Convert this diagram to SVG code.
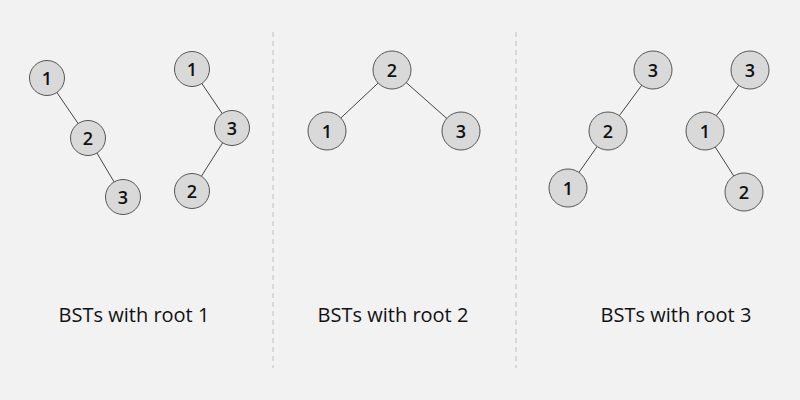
<svg xmlns="http://www.w3.org/2000/svg" width="800" height="400" viewBox="0 0 800 400">
<style>
.n circle{fill:#d9d9d9;stroke:#555;stroke-width:1}
.n text{font-family:"Open Sans","Noto Sans",sans-serif;font-size:18px;font-weight:600;fill:#111;text-anchor:middle;dominant-baseline:central}
.e line{stroke:#444;stroke-width:1}
.sep{stroke:#cfcfcf;stroke-width:1.5;stroke-dasharray:5 4}
.lbl{font-family:"Open Sans","Noto Sans",sans-serif;font-size:20px;fill:#111;text-anchor:middle}
</style>
<rect width="800" height="400" fill="#f2f2f2"/>
<line class="sep" x1="273" y1="32" x2="273" y2="368"/>
<line class="sep" x1="516" y1="32" x2="516" y2="368"/>
<g id="connectors" class="e">
<line x1="47" y1="78" x2="88" y2="138"/>
<line x1="88" y1="138" x2="123" y2="197"/>
<line x1="192" y1="69" x2="232" y2="128"/>
<line x1="232" y1="128" x2="192" y2="191"/>
<line x1="392" y1="70" x2="327" y2="131"/>
<line x1="392" y1="70" x2="461" y2="131"/>
<line x1="653" y1="70" x2="608" y2="131"/>
<line x1="608" y1="131" x2="568" y2="188"/>
<line x1="750" y1="70" x2="705" y2="131"/>
<line x1="705" y1="131" x2="744" y2="192"/>
</g>
<g id="t1a-1" class="n"><circle cx="47" cy="78" r="17.5"/><text x="47" y="78">1</text></g>
<g id="t1a-2" class="n"><circle cx="88" cy="138" r="17.5"/><text x="88" y="138">2</text></g>
<g id="t1a-3" class="n"><circle cx="123" cy="197" r="17.5"/><text x="123" y="197">3</text></g>
<g id="t1b-1" class="n"><circle cx="192" cy="69" r="17.5"/><text x="192" y="69">1</text></g>
<g id="t1b-3" class="n"><circle cx="232" cy="128" r="17.5"/><text x="232" y="128">3</text></g>
<g id="t1b-2" class="n"><circle cx="192" cy="191" r="17.5"/><text x="192" y="191">2</text></g>
<g id="t2-2" class="n"><circle cx="392" cy="70" r="19"/><text x="392" y="70">2</text></g>
<g id="t2-1" class="n"><circle cx="327" cy="131" r="19"/><text x="327" y="131">1</text></g>
<g id="t2-3" class="n"><circle cx="461" cy="131" r="19"/><text x="461" y="131">3</text></g>
<g id="t3a-3" class="n"><circle cx="653" cy="70" r="19"/><text x="653" y="70">3</text></g>
<g id="t3a-2" class="n"><circle cx="608" cy="131" r="19"/><text x="608" y="131">2</text></g>
<g id="t3a-1" class="n"><circle cx="568" cy="188" r="19"/><text x="568" y="188">1</text></g>
<g id="t3b-3" class="n"><circle cx="750" cy="70" r="19"/><text x="750" y="70">3</text></g>
<g id="t3b-1" class="n"><circle cx="705" cy="131" r="19"/><text x="705" y="131">1</text></g>
<g id="t3b-2" class="n"><circle cx="744" cy="192" r="19"/><text x="744" y="192">2</text></g>
<text class="lbl" x="134" y="322">BSTs with root 1</text>
<text class="lbl" x="393" y="322">BSTs with root 2</text>
<text class="lbl" x="676" y="322">BSTs with root 3</text>
</svg>
